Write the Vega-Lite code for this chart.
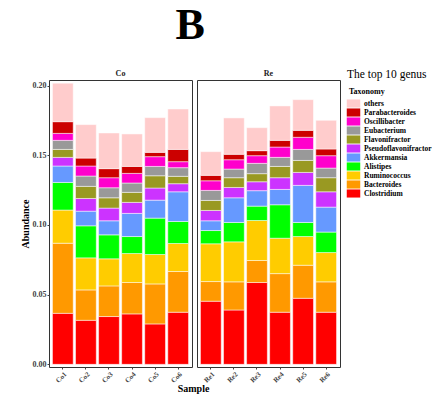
{
  "$schema": "https://vega.github.io/schema/vega-lite/v6.json",
  "padding": {"left": 19, "top": 4, "right": 0, "bottom": 0},
  "title": {"text": "B", "fontSize": 44, "font": "Liberation Serif", "fontWeight": "bold", "anchor": "start", "dx": 156, "color": "black", "offset": 20},
  "data": {"values": [
    {"Sample":"Co1","Group":"Co","Taxonomy":"Clostridium","value":0.0366},
    {"Sample":"Co1","Group":"Co","Taxonomy":"Bacteroides","value":0.0503},
    {"Sample":"Co1","Group":"Co","Taxonomy":"Ruminococcus","value":0.0238},
    {"Sample":"Co1","Group":"Co","Taxonomy":"Alistipes","value":0.0198},
    {"Sample":"Co1","Group":"Co","Taxonomy":"Akkermansia","value":0.0118},
    {"Sample":"Co1","Group":"Co","Taxonomy":"Pseudoflavonifractor","value":0.0062},
    {"Sample":"Co1","Group":"Co","Taxonomy":"Flavonifractor","value":0.0057},
    {"Sample":"Co1","Group":"Co","Taxonomy":"Eubacterium","value":0.0065},
    {"Sample":"Co1","Group":"Co","Taxonomy":"Oscillibacter","value":0.0050},
    {"Sample":"Co1","Group":"Co","Taxonomy":"Parabacteroides","value":0.0084},
    {"Sample":"Co1","Group":"Co","Taxonomy":"others","value":0.0276},
    {"Sample":"Co2","Group":"Co","Taxonomy":"Clostridium","value":0.0316},
    {"Sample":"Co2","Group":"Co","Taxonomy":"Bacteroides","value":0.0218},
    {"Sample":"Co2","Group":"Co","Taxonomy":"Ruminococcus","value":0.0230},
    {"Sample":"Co2","Group":"Co","Taxonomy":"Alistipes","value":0.0230},
    {"Sample":"Co2","Group":"Co","Taxonomy":"Akkermansia","value":0.0105},
    {"Sample":"Co2","Group":"Co","Taxonomy":"Pseudoflavonifractor","value":0.0091},
    {"Sample":"Co2","Group":"Co","Taxonomy":"Flavonifractor","value":0.0087},
    {"Sample":"Co2","Group":"Co","Taxonomy":"Eubacterium","value":0.0074},
    {"Sample":"Co2","Group":"Co","Taxonomy":"Oscillibacter","value":0.0072},
    {"Sample":"Co2","Group":"Co","Taxonomy":"Parabacteroides","value":0.0057},
    {"Sample":"Co2","Group":"Co","Taxonomy":"others","value":0.0240},
    {"Sample":"Co3","Group":"Co","Taxonomy":"Clostridium","value":0.0343},
    {"Sample":"Co3","Group":"Co","Taxonomy":"Bacteroides","value":0.0220},
    {"Sample":"Co3","Group":"Co","Taxonomy":"Ruminococcus","value":0.0194},
    {"Sample":"Co3","Group":"Co","Taxonomy":"Alistipes","value":0.0172},
    {"Sample":"Co3","Group":"Co","Taxonomy":"Akkermansia","value":0.0101},
    {"Sample":"Co3","Group":"Co","Taxonomy":"Pseudoflavonifractor","value":0.0091},
    {"Sample":"Co3","Group":"Co","Taxonomy":"Flavonifractor","value":0.0074},
    {"Sample":"Co3","Group":"Co","Taxonomy":"Eubacterium","value":0.0072},
    {"Sample":"Co3","Group":"Co","Taxonomy":"Oscillibacter","value":0.0072},
    {"Sample":"Co3","Group":"Co","Taxonomy":"Parabacteroides","value":0.0065},
    {"Sample":"Co3","Group":"Co","Taxonomy":"others","value":0.0256},
    {"Sample":"Co4","Group":"Co","Taxonomy":"Clostridium","value":0.0362},
    {"Sample":"Co4","Group":"Co","Taxonomy":"Bacteroides","value":0.0225},
    {"Sample":"Co4","Group":"Co","Taxonomy":"Ruminococcus","value":0.0208},
    {"Sample":"Co4","Group":"Co","Taxonomy":"Alistipes","value":0.0122},
    {"Sample":"Co4","Group":"Co","Taxonomy":"Akkermansia","value":0.0166},
    {"Sample":"Co4","Group":"Co","Taxonomy":"Pseudoflavonifractor","value":0.0079},
    {"Sample":"Co4","Group":"Co","Taxonomy":"Flavonifractor","value":0.0072},
    {"Sample":"Co4","Group":"Co","Taxonomy":"Eubacterium","value":0.0067},
    {"Sample":"Co4","Group":"Co","Taxonomy":"Oscillibacter","value":0.0069},
    {"Sample":"Co4","Group":"Co","Taxonomy":"Parabacteroides","value":0.0050},
    {"Sample":"Co4","Group":"Co","Taxonomy":"others","value":0.0233},
    {"Sample":"Co5","Group":"Co","Taxonomy":"Clostridium","value":0.0290},
    {"Sample":"Co5","Group":"Co","Taxonomy":"Bacteroides","value":0.0287},
    {"Sample":"Co5","Group":"Co","Taxonomy":"Ruminococcus","value":0.0211},
    {"Sample":"Co5","Group":"Co","Taxonomy":"Alistipes","value":0.0261},
    {"Sample":"Co5","Group":"Co","Taxonomy":"Akkermansia","value":0.0129},
    {"Sample":"Co5","Group":"Co","Taxonomy":"Pseudoflavonifractor","value":0.0087},
    {"Sample":"Co5","Group":"Co","Taxonomy":"Flavonifractor","value":0.0088},
    {"Sample":"Co5","Group":"Co","Taxonomy":"Eubacterium","value":0.0067},
    {"Sample":"Co5","Group":"Co","Taxonomy":"Oscillibacter","value":0.0070},
    {"Sample":"Co5","Group":"Co","Taxonomy":"Parabacteroides","value":0.0031},
    {"Sample":"Co5","Group":"Co","Taxonomy":"others","value":0.0249},
    {"Sample":"Co6","Group":"Co","Taxonomy":"Clostridium","value":0.0374},
    {"Sample":"Co6","Group":"Co","Taxonomy":"Bacteroides","value":0.0292},
    {"Sample":"Co6","Group":"Co","Taxonomy":"Ruminococcus","value":0.0201},
    {"Sample":"Co6","Group":"Co","Taxonomy":"Alistipes","value":0.0158},
    {"Sample":"Co6","Group":"Co","Taxonomy":"Akkermansia","value":0.0213},
    {"Sample":"Co6","Group":"Co","Taxonomy":"Pseudoflavonifractor","value":0.0058},
    {"Sample":"Co6","Group":"Co","Taxonomy":"Flavonifractor","value":0.0053},
    {"Sample":"Co6","Group":"Co","Taxonomy":"Eubacterium","value":0.0062},
    {"Sample":"Co6","Group":"Co","Taxonomy":"Oscillibacter","value":0.0043},
    {"Sample":"Co6","Group":"Co","Taxonomy":"Parabacteroides","value":0.0088},
    {"Sample":"Co6","Group":"Co","Taxonomy":"others","value":0.0290},
    {"Sample":"Re1","Group":"Re","Taxonomy":"Clostridium","value":0.0453},
    {"Sample":"Re1","Group":"Re","Taxonomy":"Bacteroides","value":0.0141},
    {"Sample":"Re1","Group":"Re","Taxonomy":"Ruminococcus","value":0.0271},
    {"Sample":"Re1","Group":"Re","Taxonomy":"Alistipes","value":0.0095},
    {"Sample":"Re1","Group":"Re","Taxonomy":"Akkermansia","value":0.0070},
    {"Sample":"Re1","Group":"Re","Taxonomy":"Pseudoflavonifractor","value":0.0074},
    {"Sample":"Re1","Group":"Re","Taxonomy":"Flavonifractor","value":0.0072},
    {"Sample":"Re1","Group":"Re","Taxonomy":"Eubacterium","value":0.0072},
    {"Sample":"Re1","Group":"Re","Taxonomy":"Oscillibacter","value":0.0069},
    {"Sample":"Re1","Group":"Re","Taxonomy":"Parabacteroides","value":0.0039},
    {"Sample":"Re1","Group":"Re","Taxonomy":"others","value":0.0170},
    {"Sample":"Re2","Group":"Re","Taxonomy":"Clostridium","value":0.0390},
    {"Sample":"Re2","Group":"Re","Taxonomy":"Bacteroides","value":0.0202},
    {"Sample":"Re2","Group":"Re","Taxonomy":"Ruminococcus","value":0.0287},
    {"Sample":"Re2","Group":"Re","Taxonomy":"Alistipes","value":0.0139},
    {"Sample":"Re2","Group":"Re","Taxonomy":"Akkermansia","value":0.0177},
    {"Sample":"Re2","Group":"Re","Taxonomy":"Pseudoflavonifractor","value":0.0074},
    {"Sample":"Re2","Group":"Re","Taxonomy":"Flavonifractor","value":0.0070},
    {"Sample":"Re2","Group":"Re","Taxonomy":"Eubacterium","value":0.0062},
    {"Sample":"Re2","Group":"Re","Taxonomy":"Oscillibacter","value":0.0067},
    {"Sample":"Re2","Group":"Re","Taxonomy":"Parabacteroides","value":0.0039},
    {"Sample":"Re2","Group":"Re","Taxonomy":"others","value":0.0261},
    {"Sample":"Re3","Group":"Re","Taxonomy":"Clostridium","value":0.0587},
    {"Sample":"Re3","Group":"Re","Taxonomy":"Bacteroides","value":0.0158},
    {"Sample":"Re3","Group":"Re","Taxonomy":"Ruminococcus","value":0.0287},
    {"Sample":"Re3","Group":"Re","Taxonomy":"Alistipes","value":0.0103},
    {"Sample":"Re3","Group":"Re","Taxonomy":"Akkermansia","value":0.0111},
    {"Sample":"Re3","Group":"Re","Taxonomy":"Pseudoflavonifractor","value":0.0064},
    {"Sample":"Re3","Group":"Re","Taxonomy":"Flavonifractor","value":0.0058},
    {"Sample":"Re3","Group":"Re","Taxonomy":"Eubacterium","value":0.0074},
    {"Sample":"Re3","Group":"Re","Taxonomy":"Oscillibacter","value":0.0055},
    {"Sample":"Re3","Group":"Re","Taxonomy":"Parabacteroides","value":0.0036},
    {"Sample":"Re3","Group":"Re","Taxonomy":"others","value":0.0165},
    {"Sample":"Re4","Group":"Re","Taxonomy":"Clostridium","value":0.0374},
    {"Sample":"Re4","Group":"Re","Taxonomy":"Bacteroides","value":0.0277},
    {"Sample":"Re4","Group":"Re","Taxonomy":"Ruminococcus","value":0.0254},
    {"Sample":"Re4","Group":"Re","Taxonomy":"Alistipes","value":0.0240},
    {"Sample":"Re4","Group":"Re","Taxonomy":"Akkermansia","value":0.0110},
    {"Sample":"Re4","Group":"Re","Taxonomy":"Pseudoflavonifractor","value":0.0084},
    {"Sample":"Re4","Group":"Re","Taxonomy":"Flavonifractor","value":0.0081},
    {"Sample":"Re4","Group":"Re","Taxonomy":"Eubacterium","value":0.0065},
    {"Sample":"Re4","Group":"Re","Taxonomy":"Oscillibacter","value":0.0074},
    {"Sample":"Re4","Group":"Re","Taxonomy":"Parabacteroides","value":0.0048},
    {"Sample":"Re4","Group":"Re","Taxonomy":"others","value":0.0247},
    {"Sample":"Re5","Group":"Re","Taxonomy":"Clostridium","value":0.0474},
    {"Sample":"Re5","Group":"Re","Taxonomy":"Bacteroides","value":0.0237},
    {"Sample":"Re5","Group":"Re","Taxonomy":"Ruminococcus","value":0.0206},
    {"Sample":"Re5","Group":"Re","Taxonomy":"Alistipes","value":0.0101},
    {"Sample":"Re5","Group":"Re","Taxonomy":"Akkermansia","value":0.0266},
    {"Sample":"Re5","Group":"Re","Taxonomy":"Pseudoflavonifractor","value":0.0093},
    {"Sample":"Re5","Group":"Re","Taxonomy":"Flavonifractor","value":0.0086},
    {"Sample":"Re5","Group":"Re","Taxonomy":"Eubacterium","value":0.0079},
    {"Sample":"Re5","Group":"Re","Taxonomy":"Oscillibacter","value":0.0087},
    {"Sample":"Re5","Group":"Re","Taxonomy":"Parabacteroides","value":0.0050},
    {"Sample":"Re5","Group":"Re","Taxonomy":"others","value":0.0220},
    {"Sample":"Re6","Group":"Re","Taxonomy":"Clostridium","value":0.0374},
    {"Sample":"Re6","Group":"Re","Taxonomy":"Bacteroides","value":0.0218},
    {"Sample":"Re6","Group":"Re","Taxonomy":"Ruminococcus","value":0.0210},
    {"Sample":"Re6","Group":"Re","Taxonomy":"Alistipes","value":0.0147},
    {"Sample":"Re6","Group":"Re","Taxonomy":"Akkermansia","value":0.0179},
    {"Sample":"Re6","Group":"Re","Taxonomy":"Pseudoflavonifractor","value":0.0110},
    {"Sample":"Re6","Group":"Re","Taxonomy":"Flavonifractor","value":0.0101},
    {"Sample":"Re6","Group":"Re","Taxonomy":"Eubacterium","value":0.0069},
    {"Sample":"Re6","Group":"Re","Taxonomy":"Oscillibacter","value":0.0089},
    {"Sample":"Re6","Group":"Re","Taxonomy":"Parabacteroides","value":0.0048},
    {"Sample":"Re6","Group":"Re","Taxonomy":"others","value":0.0206}
  ]},
  "config": {
    "font": "Liberation Serif",
    "view": {"stroke": "#333", "strokeWidth": 1},
    "axis": {"domain": false, "grid": false, "labelFont": "Liberation Serif", "titleFont": "Liberation Serif", "labelFontWeight": "bold", "titleFontWeight": "bold", "labelColor": "#444", "titleColor": "black", "tickColor": "#444", "tickSize": 2, "labelPadding": 1, "labelFontSize": 8, "titleFontSize": 10},
    "legend": {"labelFont": "Liberation Serif", "titleFont": "Liberation Serif"}
  },
  "spacing": 0,
  "vconcat": [
    {
      "spacing": 3,
      "hconcat": [
        {
          "spacing": 0,
          "vconcat": [
            {
              "width": 143, "height": 11,
              "data": {"values": [{"Group": "Co"}]},
              "mark": {"type": "text", "fontWeight": "bold", "fontSize": 8, "font": "Liberation Serif", "color": "#222"},
              "encoding": {"text": {"field": "Group", "type": "nominal"}}
            },
            {
              "width": 143, "height": 287,
              "transform": [
                {"filter": "datum.Group === 'Co'"},
                {"calculate": "indexof(['Clostridium','Bacteroides','Ruminococcus','Alistipes','Akkermansia','Pseudoflavonifractor','Flavonifractor','Eubacterium','Oscillibacter','Parabacteroides','others'], datum.Taxonomy)", "as": "rank"}
              ],
              "mark": {"type": "bar", "stroke": "white", "strokeWidth": 0.5},
              "encoding": {
                "x": {"field": "Sample", "type": "nominal", "scale": {"paddingInner": 0.1, "paddingOuter": 0.15},
                      "axis": {"labelAngle": -45, "labelFontSize": 7, "title": null}},
                "y": {"field": "value", "type": "quantitative", "stack": "zero",
                      "scale": {"domain": [-0.0019, 0.204], "nice": false, "zero": false},
                      "axis": {"values": [0, 0.05, 0.1, 0.15, 0.2], "format": ".2f", "title": "Abundance", "titlePadding": 2}},
                "color": {"field": "Taxonomy", "type": "nominal",
                          "scale": {"domain": ["others","Parabacteroides","Oscillibacter","Eubacterium","Flavonifractor","Pseudoflavonifractor","Akkermansia","Alistipes","Ruminococcus","Bacteroides","Clostridium"],
                                    "range": ["#FFCCCC","#CC0000","#FF00CC","#999999","#999922","#CC33FF","#6699FF","#00FF00","#FFCC00","#FF9900","#FF0000"]},
                          "legend": {"title": "Taxonomy", "orient": "none", "legendX": 300, "legendY": 20, "titleFontSize": 8, "titleFontWeight": "bold", "labelFontSize": 7.5, "labelFontWeight": "bold", "symbolType": "M-1.5,-0.9L1.5,-0.9L1.5,0.9L-1.5,0.9Z", "symbolSize": 81, "symbolStrokeWidth": 0, "symbolOpacity": 1, "rowPadding": 0, "labelOffset": 6, "titlePadding": 3}},
                "order": {"field": "rank", "type": "quantitative"}
              }
            }
          ]
        },
        {
          "spacing": 0,
          "vconcat": [
            {
              "width": 143, "height": 11,
              "data": {"values": [{"Group": "Re"}]},
              "mark": {"type": "text", "fontWeight": "bold", "fontSize": 8, "font": "Liberation Serif", "color": "#222"},
              "encoding": {"text": {"field": "Group", "type": "nominal"}}
            },
            {
              "width": 143, "height": 287,
              "transform": [
                {"filter": "datum.Group === 'Re'"},
                {"calculate": "indexof(['Clostridium','Bacteroides','Ruminococcus','Alistipes','Akkermansia','Pseudoflavonifractor','Flavonifractor','Eubacterium','Oscillibacter','Parabacteroides','others'], datum.Taxonomy)", "as": "rank"}
              ],
              "mark": {"type": "bar", "stroke": "white", "strokeWidth": 0.5},
              "encoding": {
                "x": {"field": "Sample", "type": "nominal", "scale": {"paddingInner": 0.1, "paddingOuter": 0.15},
                      "axis": {"labelAngle": -45, "labelFontSize": 7, "title": null}},
                "y": {"field": "value", "type": "quantitative", "stack": "zero",
                      "scale": {"domain": [-0.0019, 0.204], "nice": false, "zero": false},
                      "axis": null},
                "color": {"field": "Taxonomy", "type": "nominal"},
                "order": {"field": "rank", "type": "quantitative"}
              }
            }
          ]
        },
        {
          "width": 80, "height": 10,
          "view": {"stroke": null},
          "data": {"values": []},
          "title": {"text": "The top 10 genus", "anchor": "start", "fontSize": 11.5, "fontWeight": "normal", "font": "Liberation Serif", "color": "black", "offset": -12, "dx": 3},
          "mark": "text",
          "encoding": {}
        }
      ]
    },
    {
      "width": 289, "height": 1,
      "view": {"stroke": null},
      "data": {"values": []},
      "title": {"text": "Sample", "anchor": "middle", "fontSize": 10, "fontWeight": "bold", "font": "Liberation Serif", "color": "black", "offset": 0},
      "mark": "text",
      "encoding": {}
    }
  ]
}
